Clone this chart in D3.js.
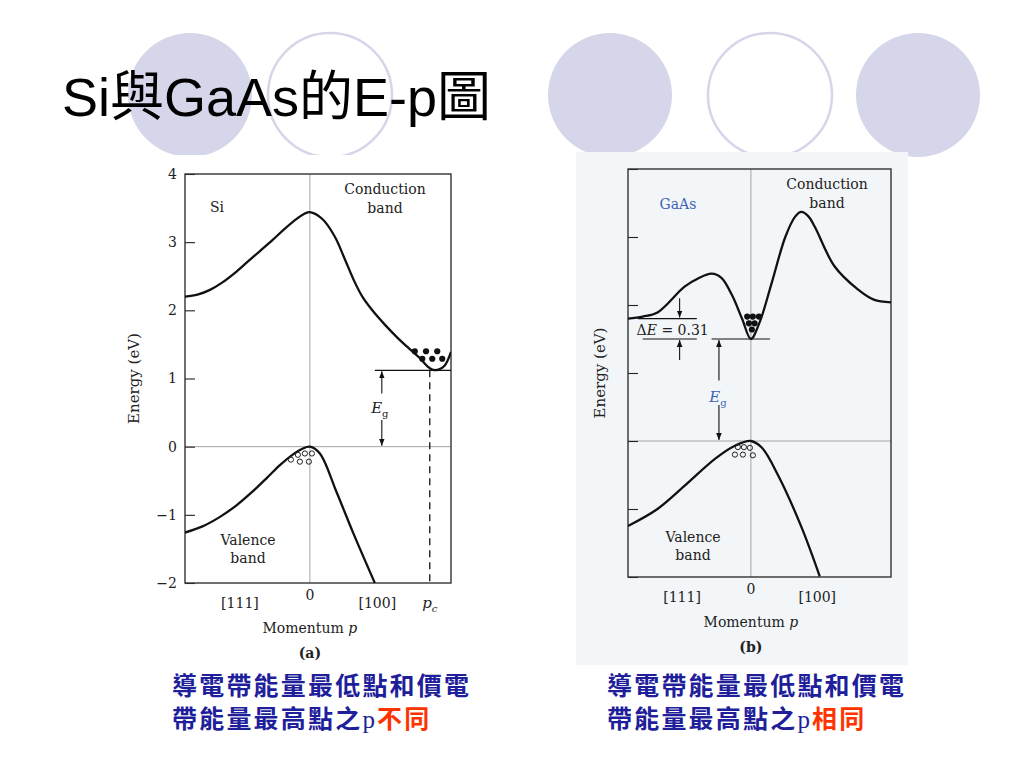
<!DOCTYPE html>
<html>
<head>
<meta charset="utf-8">
<script src="https://cdn.jsdelivr.net/npm/d3@7"></script>
<style>
  html, body { margin: 0; padding: 0; background: #fff; }
  svg { display: block; }
</style>
</head>
<body>
<div id="chart"></div>
<script>
// E-p diagrams for Si (a) and GaAs (b)

// energy axis (eV)
const energyTicks = [-2, -1, 0, 1, 2, 3, 4];

// band curves as [momentum, energy]; momentum -1 = [111] zone edge, 0 = centre
const siConduction = [[-1, 2.2], [-0.9, 2.23], [-0.8, 2.3], [-0.7, 2.41], [-0.6, 2.55], [-0.5, 2.71],
  [-0.4, 2.87], [-0.3, 3.03], [-0.2, 3.2], [-0.1, 3.35], [-0.04, 3.42], [0, 3.44], [0.1, 3.34],
  [0.2, 3.08], [0.28, 2.75], [0.35, 2.45], [0.42, 2.2], [0.5, 2.0], [0.6, 1.79], [0.7, 1.6],
  [0.8, 1.43], [0.88, 1.3], [0.94, 1.18], [0.98, 1.13], [1.03, 1.13], [1.08, 1.19], [1.13, 1.39]];
const siValence = [[-1, -1.26], [-0.86, -1.17], [-0.72, -1.03], [-0.58, -0.85], [-0.46, -0.66],
  [-0.34, -0.45], [-0.24, -0.27], [-0.14, -0.12], [-0.06, -0.03], [0, 0], [0.08, -0.1],
  [0.21, -0.65], [0.35, -1.28], [0.52, -2.0]];
const gaasConduction = [[-1, 1.8], [-0.88, 1.83], [-0.76, 1.89], [-0.54, 2.27], [-0.43, 2.39], [-0.32, 2.46],
  [-0.24, 2.4], [-0.155, 2.15], [-0.07, 1.79], [0, 1.5], [0.07, 1.74], [0.17, 2.33], [0.28, 3.0],
  [0.36, 3.3], [0.41, 3.37], [0.47, 3.3], [0.52, 3.15], [0.68, 2.57], [0.87, 2.23], [1.0, 2.08], [1.14, 2.04]];
const gaasValence = [[-1, -1.25], [-0.76, -1.0], [-0.54, -0.66], [-0.29, -0.26], [-0.13, -0.07],
  [0, 0], [0.09, -0.1], [0.22, -0.5], [0.41, -1.26], [0.56, -1.99]];

// carriers: electrons (filled) and holes (open)
const siElectrons = [[0.84, 1.4], [0.93, 1.4], [1.02, 1.4], [0.9, 1.29], [0.98, 1.29], [1.06, 1.29]];
const siHoles = [[-0.096, -0.12], [-0.04, -0.1], [0.016, -0.1], [-0.152, -0.19], [-0.08, -0.22], [-0.008, -0.22]];
const gaasElectrons = [[-0.03, 1.83], [0.016, 1.83], [0.065, 1.83], [-0.016, 1.73], [0.03, 1.73], [0.008, 1.64]];
const gaasHoles = [[-0.106, -0.09], [-0.057, -0.09], [-0.008, -0.1], [-0.13, -0.2], [-0.065, -0.2], [0.016, -0.21]];

// gap levels and annotation values
const siGap = 1.12;
const siPc = 0.96;
const gaasGap = 1.5;
const gaasSideValley = 1.8;
const deltaEValue = "0.31";

// axis labels
const momentumTicks = [{ p: -0.56, text: "[111]" }, { p: 0, text: "0" }, { p: 0.54, text: "[100]" }];

const width = 1024, height = 768;
const serif = "'DejaVu Serif', 'Liberation Serif', serif";

const svg = d3.select("#chart").append("svg")
  .attr("width", width)
  .attr("height", height);

const defs = svg.append("defs");
defs.append("marker")
  .attr("id", "arrow")
  .attr("viewBox", "0 0 10 10")
  .attr("refX", 10).attr("refY", 5)
  .attr("markerWidth", 7).attr("markerHeight", 7)
  .attr("markerUnits", "userSpaceOnUse")
  .attr("orient", "auto")
  .append("path").attr("d", "M0,1 L10,5 L0,9 Z").attr("fill", "#111");

// decorative slide circles
const circleFill = "#d6d6ea";
[[190, true], [330, false], [610, true], [770, false], [918, true]].forEach(([cx, filled]) => {
  svg.append("circle")
    .attr("cx", cx).attr("cy", 95).attr("r", 62)
    .attr("fill", filled ? circleFill : "#fff")
    .attr("stroke", circleFill)
    .attr("stroke-width", filled ? 0 : 2.5);
});

// title
svg.append("text")
  .attr("x", 62).attr("y", 116)
  .attr("font-family", "'Liberation Sans', Arial, 'Noto Sans CJK TC', sans-serif")
  .attr("font-size", 54)
  .attr("fill", "#000")
  .text("Si與GaAs的E-p圖");

// scanned figure backgrounds (cover the circles below)
svg.append("rect").attr("x", 110).attr("y", 155).attr("width", 370).attr("height", 512).attr("fill", "#fff");
svg.append("rect").attr("x", 576).attr("y", 152).attr("width", 332).attr("height", 513).attr("fill", "#f3f6f9");

function drawPanel(cfg) {
  const g = svg.append("g");
  const x = d3.scaleLinear().domain([-1, cfg.pMax]).range([cfg.left, cfg.right]);
  const y = d3.scaleLinear().domain([-2, 4]).range([cfg.bottom, cfg.top]);

  const clipId = "clip-" + cfg.id;
  defs.append("clipPath").attr("id", clipId)
    .append("rect")
    .attr("x", cfg.left).attr("y", cfg.top)
    .attr("width", cfg.right - cfg.left).attr("height", cfg.bottom - cfg.top);

  // zero lines
  g.append("line")
    .attr("x1", x(0)).attr("x2", x(0)).attr("y1", cfg.top).attr("y2", cfg.bottom)
    .attr("stroke", "#9a9a9a").attr("stroke-width", 0.9);
  g.append("line")
    .attr("x1", cfg.left).attr("x2", cfg.right).attr("y1", y(0)).attr("y2", y(0))
    .attr("stroke", "#9a9a9a").attr("stroke-width", 0.9);

  // left axis with inward ticks
  const axis = d3.axisLeft(y).tickValues(energyTicks).tickSizeInner(-10).tickSizeOuter(0)
    .tickPadding(8).tickFormat(d => cfg.showTickLabels ? d3.format("d")(d).replace("-", "−") : "");
  g.append("g")
    .attr("transform", `translate(${cfg.left},0)`)
    .call(axis)
    .call(a => a.select(".domain").remove())
    .call(a => a.selectAll(".tick line").attr("stroke", "#222").attr("stroke-width", 1.1))
    .call(a => a.selectAll(".tick text")
      .attr("font-family", serif).attr("font-size", 14).attr("fill", "#222"));

  // frame
  g.append("rect")
    .attr("x", cfg.left).attr("y", cfg.top)
    .attr("width", cfg.right - cfg.left).attr("height", cfg.bottom - cfg.top)
    .attr("fill", "none").attr("stroke", "#333").attr("stroke-width", 1.4);

  // bands
  const line = d3.line()
    .x(d => x(d[0])).y(d => y(d[1]))
    .curve(d3.curveCatmullRom.alpha(0.5));
  const bands = g.append("g").attr("clip-path", `url(#${clipId})`);
  [cfg.conduction, cfg.valence].forEach(band => {
    bands.append("path")
      .attr("d", line(band))
      .attr("fill", "none").attr("stroke", "#111").attr("stroke-width", 2.3);
  });

  // carriers
  g.append("g").selectAll("circle").data(cfg.electrons).join("circle")
    .attr("cx", d => x(d[0])).attr("cy", d => y(d[1])).attr("r", 3.1).attr("fill", "#111");
  g.append("g").selectAll("circle").data(cfg.holes).join("circle")
    .attr("cx", d => x(d[0])).attr("cy", d => y(d[1])).attr("r", 2.6)
    .attr("fill", "none").attr("stroke", "#222").attr("stroke-width", 1);

  // momentum labels
  momentumTicks.forEach(t => {
    g.append("text")
      .attr("x", x(t.p)).attr("y", t.p === 0 ? cfg.bottom + 17 : cfg.bottom + 25)
      .attr("text-anchor", "middle")
      .attr("font-family", serif).attr("font-size", 14).attr("fill", "#222")
      .text(t.text);
  });
  const mid = x(0);
  const mom = g.append("text")
    .attr("x", mid).attr("y", cfg.bottom + 50)
    .attr("text-anchor", "middle")
    .attr("font-family", serif).attr("font-size", 14).attr("fill", "#222");
  mom.append("tspan").text("Momentum ");
  mom.append("tspan").attr("font-style", "italic").text("p");
  g.append("text")
    .attr("x", mid).attr("y", cfg.bottom + 75)
    .attr("text-anchor", "middle")
    .attr("font-family", serif).attr("font-size", 14).attr("font-weight", "bold").attr("fill", "#222")
    .text(cfg.tag);

  // energy label
  g.append("text")
    .attr("transform", `translate(${cfg.left - cfg.ylabelGap},${(cfg.top + cfg.bottom) / 2}) rotate(-90)`)
    .attr("text-anchor", "middle")
    .attr("font-family", serif).attr("font-size", 15).attr("fill", "#222")
    .text("Energy (eV)");

  // band names
  const cb = g.append("text")
    .attr("text-anchor", "middle")
    .attr("font-family", serif).attr("font-size", 14).attr("fill", "#222");
  cb.append("tspan").attr("x", cfg.condLabel[0]).attr("y", cfg.condLabel[1]).text("Conduction");
  cb.append("tspan").attr("x", cfg.condLabel[0]).attr("y", cfg.condLabel[1] + 19).text("band");
  const vb = g.append("text")
    .attr("text-anchor", "middle")
    .attr("font-family", serif).attr("font-size", 14).attr("fill", "#222");
  vb.append("tspan").attr("x", cfg.valLabel[0]).attr("y", cfg.valLabel[1]).text("Valence");
  vb.append("tspan").attr("x", cfg.valLabel[0]).attr("y", cfg.valLabel[1] + 18).text("band");

  g.append("text")
    .attr("x", cfg.nameLabel[0]).attr("y", cfg.nameLabel[1])
    .attr("text-anchor", "middle")
    .attr("font-family", serif).attr("font-size", 14).attr("fill", cfg.nameColor)
    .text(cfg.name);

  return { g, x, y };
}

function arrow(g, x1, y1, x2, y2) {
  g.append("line")
    .attr("x1", x1).attr("y1", y1).attr("x2", x2).attr("y2", y2)
    .attr("stroke", "#111").attr("stroke-width", 1.1)
    .attr("marker-end", "url(#arrow)");
}

function egLabel(g, px, py, color) {
  const t = g.append("text")
    .attr("x", px).attr("y", py)
    .attr("text-anchor", "middle")
    .attr("font-family", serif).attr("font-size", 15).attr("fill", color);
  t.append("tspan").attr("font-style", "italic").text("E");
  t.append("tspan").attr("font-size", 10).attr("dy", 4).text("g");
}

// panel (a): Si
const a = drawPanel({
  id: "a", left: 185, right: 451, top: 174, bottom: 583, pMax: 1.13,
  conduction: siConduction, valence: siValence,
  electrons: siElectrons, holes: siHoles,
  showTickLabels: true, ylabelGap: 46, tag: "(a)",
  condLabel: [385, 194], valLabel: [248, 545],
  name: "Si", nameLabel: [217, 212], nameColor: "#222"
});
{
  const { g, x, y } = a;
  g.append("line")
    .attr("x1", x(0.52)).attr("x2", x(1.13)).attr("y1", y(siGap)).attr("y2", y(siGap))
    .attr("stroke", "#111").attr("stroke-width", 1.3);
  g.append("line")
    .attr("x1", x(siPc)).attr("x2", x(siPc)).attr("y1", y(siGap)).attr("y2", y(-2))
    .attr("stroke", "#111").attr("stroke-width", 1.3).attr("stroke-dasharray", "7,5");
  const ax = x(0.576);
  arrow(g, ax, y(0.78), ax, y(siGap) + 1);
  arrow(g, ax, y(0.39), ax, y(0) - 1);
  egLabel(g, ax - 2, 413, "#222");
  const pc = g.append("text")
    .attr("x", x(siPc)).attr("y", a.y(-2) + 25)
    .attr("text-anchor", "middle")
    .attr("font-family", serif).attr("font-size", 15).attr("fill", "#222");
  pc.append("tspan").attr("font-style", "italic").text("p");
  pc.append("tspan").attr("font-style", "italic").attr("font-size", 10).attr("dy", 4).text("c");
}

// panel (b): GaAs
const b = drawPanel({
  id: "b", left: 628, right: 891, top: 169, bottom: 577, pMax: 1.14,
  conduction: gaasConduction, valence: gaasValence,
  electrons: gaasElectrons, holes: gaasHoles,
  showTickLabels: false, ylabelGap: 23, tag: "(b)",
  condLabel: [827, 189], valLabel: [693, 542],
  name: "GaAs", nameLabel: [678, 209], nameColor: "#3f62b8"
});
{
  const { g, x, y } = b;
  g.append("line")
    .attr("x1", x(-0.92)).attr("x2", x(-0.44)).attr("y1", y(gaasSideValley)).attr("y2", y(gaasSideValley))
    .attr("stroke", "#111").attr("stroke-width", 1.2);
  g.append("line")
    .attr("x1", x(-0.88)).attr("x2", x(-0.44)).attr("y1", y(gaasGap)).attr("y2", y(gaasGap))
    .attr("stroke", "#111").attr("stroke-width", 1.2);
  g.append("line")
    .attr("x1", x(-0.32)).attr("x2", x(0.155)).attr("y1", y(gaasGap)).attr("y2", y(gaasGap))
    .attr("stroke", "#111").attr("stroke-width", 1.2);
  const dx = x(-0.58);
  arrow(g, dx, y(2.1), dx, y(gaasSideValley) - 1);
  arrow(g, dx, y(1.19), dx, y(gaasGap) + 1);
  const de = g.append("text")
    .attr("x", x(-0.93)).attr("y", 335)
    .attr("font-family", serif).attr("font-size", 14).attr("fill", "#222");
  de.append("tspan").text("Δ");
  de.append("tspan").attr("font-style", "italic").text("E");
  de.append("tspan").text(" = " + deltaEValue);
  const ex = x(-0.26);
  arrow(g, ex, y(0.89), ex, y(gaasGap) + 1);
  arrow(g, ex, y(0.53), ex, y(0) - 1);
  egLabel(g, ex - 1, 402, "#3f62b8");
}

// captions
const navy = "#1f1f9c", red = "#ff3300";
const cjk = "'Noto Sans CJK TC', 'Noto Sans CJK SC', sans-serif";
[[172, "不同"], [607, "相同"]].forEach(([cx, word]) => {
  svg.append("text")
    .attr("x", cx).attr("y", 695)
    .attr("font-family", cjk).attr("font-size", 25).attr("font-weight", "bold")
    .attr("letter-spacing", 2.2).attr("fill", navy)
    .text("導電帶能量最低點和價電");
  const t = svg.append("text")
    .attr("x", cx).attr("y", 728)
    .attr("font-family", cjk).attr("font-size", 25).attr("font-weight", "bold")
    .attr("letter-spacing", 2.2).attr("fill", navy);
  t.append("tspan").text("帶能量最高點之");
  t.append("tspan").attr("font-family", "'Liberation Serif', serif").attr("font-weight", "normal").text("p");
  t.append("tspan").attr("fill", red).text(word);
});
</script>
</body>
</html>
